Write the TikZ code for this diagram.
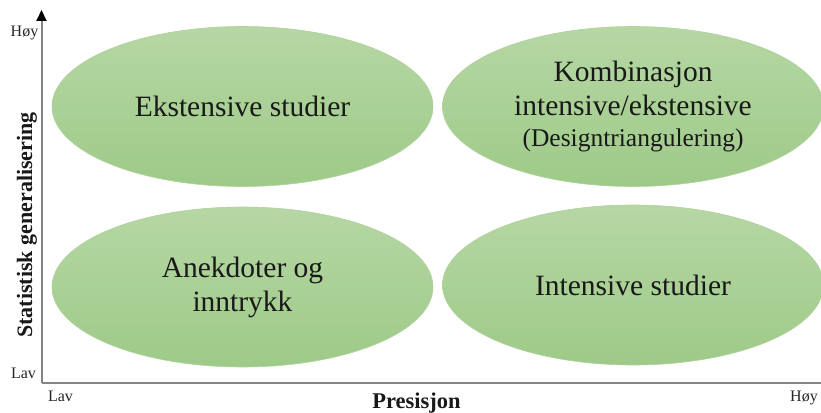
\documentclass[tikz,border=0pt]{standalone}
\usepackage{fontspec}
\setmainfont{Liberation Serif}
\usetikzlibrary{shapes.geometric,arrows.meta}
\definecolor{gtop}{RGB}{182,215,164}
\definecolor{gbot}{RGB}{158,202,136}
\definecolor{gedge}{RGB}{176,210,158}
\definecolor{axisgray}{RGB}{132,132,132}
\tikzset{
  blob/.style={ellipse, minimum width=381pt, minimum height=160pt, inner sep=0pt,
    top color=gtop, bottom color=gbot, draw=gedge, line width=0.6pt,
    align=center, font=\fontsize{29.5}{34}\selectfont, text=black!90},
  axisline/.style={draw=axisgray, line width=2pt},
  ticklbl/.style={font=\fontsize{16}{18}\selectfont, anchor=base, text=black!85},
  axislbl/.style={font=\bfseries\fontsize{22.5}{26}\selectfont, anchor=base, text=black!90}
}
\begin{document}
\begin{tikzpicture}[x=1pt,y=-1pt]
\useasboundingbox (0,0) rectangle (821,412);
% axes
\coordinate (origin) at (41.5,383);
\coordinate (ytop) at (41.5,10);
\coordinate (xend) at (825,383);
\draw[axisline, -{Triangle[length=11pt,width=10pt,color=black]}] (origin) -- (ytop);
\draw[axisline] (origin) -- (xend);
% ellipses
\node[blob] (ext) at (242.5,106.5) {Ekstensive studier};
\node[blob] (komb) at (633,106.5) {Kombinasjon\\intensive/ekstensive\\[-3pt]{\fontsize{25.5}{30}\selectfont(Designtriangulering)}};
\node[blob] (anek) at (242.5,287) {Anekdoter og\\inntrykk};
\node[blob] (int) at (633,285) {Intensive studier};
% labels
\node[ticklbl] (yhoy) at (24.5,37) {Høy};
\node[ticklbl] (ylav) at (23.5,378) {Lav};
\node[ticklbl] (xlav) at (60.5,401) {Lav};
\node[ticklbl] (xhoy) at (804,401) {Høy};
\node[axislbl] (xlbl) at (416.5,408) {Presisjon};
\node[axislbl, font=\bfseries\fontsize{22}{26}\selectfont, rotate=90] (ylbl) at (32,225) {Statistisk generalisering};
\end{tikzpicture}
\end{document}
